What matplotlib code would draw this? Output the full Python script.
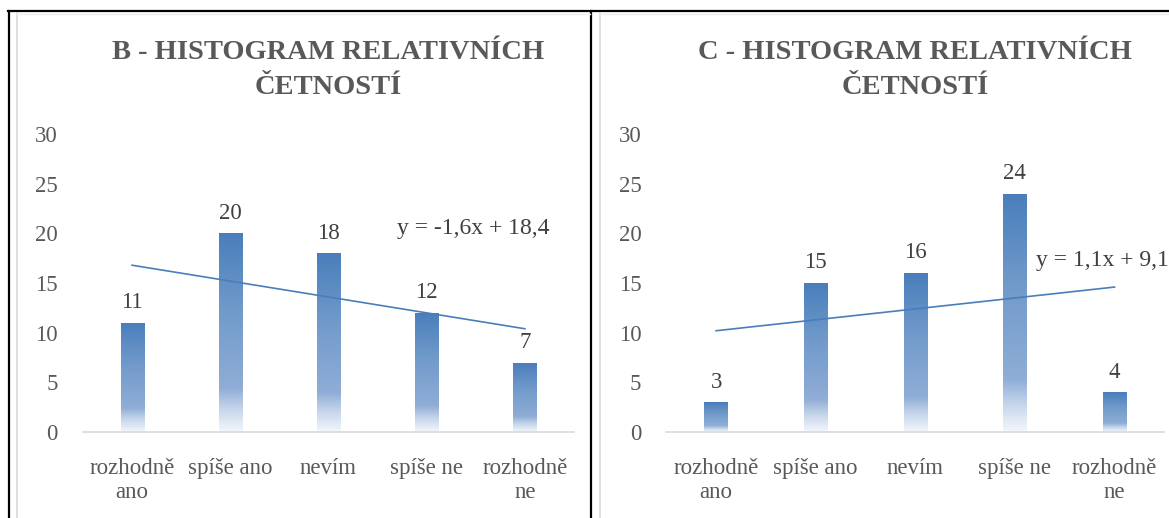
import numpy as np
import matplotlib
matplotlib.use('Agg')
import matplotlib.pyplot as plt
from matplotlib.colors import LinearSegmentedColormap
from matplotlib.lines import Line2D

# data
categories = ['rozhodně\nano', 'spíše ano', 'nevím', 'spíše ne', 'rozhodně\nne']
values_b = [11, 20, 18, 12, 7]
values_c = [3, 15, 16, 24, 4]
titles = ['B - HISTOGRAM RELATIVNÍCH\nČETNOSTÍ', 'C - HISTOGRAM RELATIVNÍCH\nČETNOSTÍ']
trend_b = (-1.6, 18.4)
trend_c = (1.1, 9.1)
trend_labels = ['y = -1,6x + 18,4', 'y = 1,1x + 9,1']
yticks = [0, 5, 10, 15, 20, 25, 30]

plt.rcParams['font.family'] = ['Liberation Serif', 'DejaVu Serif']

blue = '#4A7EBB'
grad = LinearSegmentedColormap.from_list(
    'g', [(0.0, '#F4F7FC'), (0.12, '#C3D4EA'), (0.22, '#8FADD6'),
          (0.6, '#729BCB'), (1.0, '#4A7EBB')])

fig = plt.figure(figsize=(11.69, 5.18), dpi=100)


def draw_chart(ax, values, title, trend, tlabel, tpos, tha):
    x = np.arange(len(values))
    bars = ax.bar(x, values, width=0.235, color='none', edgecolor='none')
    g = np.linspace(0, 1, 256).reshape(-1, 1)
    for b in bars:
        bx, by = b.get_x(), b.get_y()
        bw, bh = b.get_width(), b.get_height()
        im = ax.imshow(g, cmap=grad, origin='lower', aspect='auto',
                       extent=[bx, bx + bw, by, by + bh], zorder=2)
        im.set_clip_path(b)
    for xi, v in zip(x, values):
        ax.annotate(str(v), (xi, v), xytext=(0, 7), textcoords='offset points',
                    ha='center', va='bottom', fontsize=16.5, color='#404040')
    # linear trend line (1-based x as in Excel)
    xt = np.array([1, len(values)])
    ax.plot(xt - 1, trend[0] * xt + trend[1], color=blue, lw=1.2, zorder=3)
    ax.text(tpos[0], tpos[1], tlabel, ha=tha, va='center', fontsize=17,
            color='#404040')
    ax.set_xlim(-0.5, len(values) - 0.5)
    ax.set_ylim(0, 30)
    ax.set_yticks(yticks)
    ax.set_xticks(x)
    ax.set_xticklabels(categories, fontsize=16.5, color='#595959', linespacing=1.15)
    ax.tick_params(axis='y', labelsize=16.5, labelcolor='#595959', length=0, pad=18)
    ax.tick_params(axis='x', length=0, pad=19)
    for s in ['top', 'right', 'left']:
        ax.spines[s].set_visible(False)
    ax.spines['bottom'].set_color('#D9D9D9')
    ax.spines['bottom'].set_linewidth(1.2)
    ax.set_title(title, fontsize=20.5, fontweight='bold', color='#595959',
                 linespacing=1.5, pad=29)


ax1 = fig.add_axes([0.071, 0.166, 0.420, 0.575])
draw_chart(ax1, values_b, titles[0], trend_b, trend_labels[0], (3.47, 20.5), 'center')
ax2 = fig.add_axes([0.570, 0.166, 0.426, 0.575])
draw_chart(ax2, values_c, titles[1], trend_c, trend_labels[1], (4.55, 17.3), 'right')

# page frame lines (pixel coords, y from top)
W, H = 1169.0, 518.0
frame = [((8, 1169), (11, 11), 'black', 1.6),
         ((9, 9), (11, 518), 'black', 1.6),
         ((591, 591), (11, 518), 'black', 1.6),
         ((16.5, 16.5), (13, 518), '#D9D9D9', 1.2),
         ((599.5, 599.5), (13, 518), '#D9D9D9', 1.2),
         ((16, 590), (13.5, 13.5), '#EDEDED', 1.0),
         ((599, 1169), (13.5, 13.5), '#EDEDED', 1.0)]
for xs, ys, c, lw in frame:
    fig.add_artist(Line2D([v / W for v in xs], [1 - v / H for v in ys],
                          color=c, lw=lw, transform=fig.transFigure))

plt.savefig('out.png', dpi=100)
